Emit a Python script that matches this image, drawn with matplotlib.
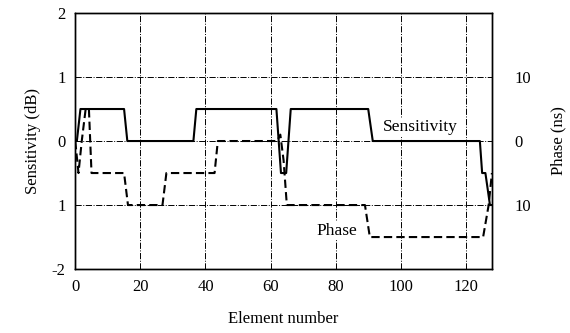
import matplotlib
matplotlib.use("Agg")
import matplotlib.pyplot as plt

# Sensitivity (dB) versus element number
sens_x = [0, 0.5, 1.6, 15.0, 16.0, 36.3, 37.2, 61.8, 63.2, 64.8, 66.2, 90.0, 91.4, 124.3, 125.0, 126.0, 127.4, 128.0]
sens_y = [0, 0.0, 0.5, 0.5, 0.0, 0.0, 0.5, 0.5, -0.5, -0.5, 0.5, 0.5, 0.0, 0.0, -0.5, -0.5, -1.0, -1.0]

# Phase (ns) versus element number
phase_x = [0, 1.0, 2.0, 3.2, 4.2, 5.0, 15.0, 16.2, 26.8, 28.0, 42.8, 43.8, 62.0, 63.0, 64.0, 65.0, 89.0, 90.5, 125.3, 127.0, 128.0]
phase_y = [0, -5, 0, 5, 5, -5, -5, -10, -10, -5, -5, 0, 0, 1, -3, -10, -10, -15, -15, -10, -5]

x_ticks = [0, 20, 40, 60, 80, 100, 120]
sens_ticks = [-2, -1, 0, 1, 2]
sens_labels = ["-2", "1", "0", "1", "2"]
phase_ticks = [-10, 0, 10]
phase_labels = ["10", "0", "10"]

plt.rcParams["font.family"] = ["Liberation Serif", "DejaVu Serif"]
plt.rcParams["font.size"] = 12

fig, ax = plt.subplots(figsize=(5.7, 3.33), dpi=100)
fig.subplots_adjust(left=0.132, right=0.863, bottom=0.192, top=0.961)

# dash-dot grid
for gx in x_ticks[1:]:
    ax.axvline(gx, color="black", lw=0.7, ls="-.", zorder=1)
for gy in [-1, 0, 1]:
    ax.axhline(gy, color="black", lw=0.7, ls="-.", zorder=1)

ax.plot(sens_x, sens_y, color="black", lw=1.5, zorder=3)
ax.set_xlim(0, 128)
ax.set_ylim(-2, 2)
ax.set_xticks(x_ticks)
ax.set_yticks(sens_ticks)
ax.set_yticklabels(sens_labels)
ax.tick_params(length=0, pad=7)
ax.set_xlabel("Element number", labelpad=12)
ax.set_ylabel("Sensitivity (dB)", labelpad=8)

ax2 = ax.twinx()
ax2.plot(phase_x, phase_y, color="black", lw=1.5, ls=(0, (4, 2)), zorder=3)
ax2.set_ylim(-20, 20)
ax2.set_yticks(phase_ticks)
ax2.set_yticklabels(phase_labels)
ax2.tick_params(length=0, pad=16)
ax2.set_ylabel("Phase (ns)", labelpad=14)

for a in (ax, ax2):
    for s in a.spines.values():
        s.set_linewidth(1.0)

ax.text(106, 0.22, "Sensitivity", ha="center", va="center", fontsize=12.5,
        bbox=dict(facecolor="white", edgecolor="none", pad=1))
ax.text(80.5, -1.4, "Phase", ha="center", va="center", fontsize=12.5,
        bbox=dict(facecolor="white", edgecolor="none", pad=1))

fig.savefig("out.png", dpi=100)
